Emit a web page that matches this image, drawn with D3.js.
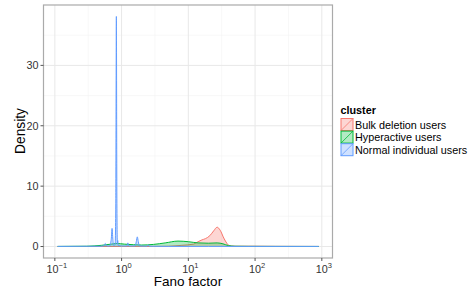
<!DOCTYPE html>
<html><head><meta charset="utf-8">
<script src="https://cdn.jsdelivr.net/npm/d3@7"></script>
<style>body{margin:0;background:#fff}svg{display:block}text{font-family:"Liberation Sans",Arial,sans-serif}</style>
</head><body><svg id="c" width="473" height="290"></svg>
<script>
// Data
const clusters = ["Bulk deletion users", "Hyperactive users", "Normal individual users"];
const colors = ["#F8766D", "#00BA38", "#619CFF"];
const bulkFano =    [0.11, 1, 3, 5, 8, 12, 14, 16, 18, 21, 24, 27, 30, 34, 38, 42, 50, 100, 200, 900];
const bulkDensity = [0.005, 0.005, 0.01, 0.05, 0.2, 0.4, 0.8, 1.1, 1.3, 1.8, 2.6, 3.2, 2.7, 1.4, 0.5, 0.1, 0.05, 0.05, 0.03, 0.01];
const hyperFano =    [0.11, 0.3, 0.5, 0.7, 0.85, 1.1, 1.5, 2, 3, 4.5, 7, 10, 14, 20, 27, 33, 40, 50, 80, 200, 900];
const hyperDensity = [0.02, 0.05, 0.2, 0.4, 0.5, 0.4, 0.3, 0.25, 0.35, 0.6, 0.9, 0.8, 0.6, 0.55, 0.6, 0.45, 0.15, 0.05, 0.03, 0.02, 0.01];
const normalFano =    [0.11, 0.5, 0.54, 0.57, 0.6, 0.66, 0.7, 0.72, 0.74, 0.76, 0.8, 0.82, 0.835, 0.85, 0.865, 0.875, 0.89, 1.0, 1.2, 1.24, 1.28, 1.6, 1.66, 1.72, 1.78, 1.85, 2.4, 2.5, 2.6, 5, 20, 100, 900];
const normalDensity = [0.02, 0.05, 0.1, 0.5, 0.1, 0.1, 1.2, 3.0, 1.2, 0.2, 0.3, 8, 38.1, 8, 0.5, 1.0, 0.2, 0.1, 0.1, 0.6, 0.1, 0.1, 0.8, 1.6, 0.8, 0.1, 0.05, 0.3, 0.05, 0.02, 0.02, 0.02, 0.02];
const xTickExps = [-1, 0, 1, 2, 3];
const yTicks = [0, 10, 20, 30];

const series = [
  {name: clusters[0], color: colors[0], x: bulkFano, y: bulkDensity},
  {name: clusters[1], color: colors[1], x: hyperFano, y: hyperDensity},
  {name: clusters[2], color: colors[2], x: normalFano, y: normalDensity}
];

const svg = d3.select("#c");
const L = 43.5, R = 332.5, T = 5, B = 258;
const x = d3.scaleLog().domain([Math.pow(10, -1.17), Math.pow(10, 3.16)]).range([L, R]);
const y = d3.scaleLinear().domain([-1.9, 40]).range([B, T]);

// grid
const g = svg.append("g");
const minorX = [-0.5, 0.5, 1.5, 2.5].map(e => Math.pow(10, e));
g.selectAll(".mx").data(minorX).enter().append("line")
  .attr("x1", d => x(d)).attr("x2", d => x(d)).attr("y1", T).attr("y2", B)
  .attr("stroke", "#f3f3f3").attr("stroke-width", 0.6);
g.selectAll(".my").data([5, 15, 25, 35]).enter().append("line")
  .attr("x1", L).attr("x2", R).attr("y1", d => y(d)).attr("y2", d => y(d))
  .attr("stroke", "#f3f3f3").attr("stroke-width", 0.6);
g.selectAll(".gx").data(xTickExps).enter().append("line")
  .attr("x1", d => x(Math.pow(10, d))).attr("x2", d => x(Math.pow(10, d))).attr("y1", T).attr("y2", B)
  .attr("stroke", "#e8e8e8").attr("stroke-width", 1);
g.selectAll(".gy").data(yTicks).enter().append("line")
  .attr("x1", L).attr("x2", R).attr("y1", d => y(d)).attr("y2", d => y(d))
  .attr("stroke", "#e8e8e8").attr("stroke-width", 1);

// densities
series.forEach(s => {
  const pts = s.x.map((v, i) => [v, s.y[i]]);
  const area = d3.area().x(d => x(d[0])).y0(y(0)).y1(d => y(d[1])).curve(d3.curveMonotoneX);
  const line = d3.line().x(d => x(d[0])).y(d => y(d[1])).curve(d3.curveMonotoneX);
  svg.append("path").datum(pts).attr("d", area).attr("fill", s.color).attr("fill-opacity", 0.3);
  svg.append("path").datum(pts).attr("d", line).attr("fill", "none").attr("stroke", s.color).attr("stroke-width", 1);
});

// border
svg.append("rect").attr("x", L).attr("y", T).attr("width", R - L).attr("height", B - T)
  .attr("fill", "none").attr("stroke", "#aaaaaa").attr("stroke-width", 1.2);

// y axis
yTicks.forEach(v => {
  svg.append("line").attr("x1", L - 3).attr("x2", L).attr("y1", y(v)).attr("y2", y(v)).attr("stroke", "#555");
  svg.append("text").attr("x", L - 5).attr("y", y(v)).attr("dy", "0.35em").attr("text-anchor", "end")
    .attr("font-size", 10.8).attr("fill", "#333").text(v);
});
// x axis
xTickExps.forEach(e => {
  const px = x(Math.pow(10, e));
  svg.append("line").attr("x1", px).attr("x2", px).attr("y1", B).attr("y2", B + 3).attr("stroke", "#555");
  const t = svg.append("text").attr("x", px + 2).attr("y", 273).attr("text-anchor", "middle")
    .attr("font-size", 10.8).attr("fill", "#333");
  t.append("tspan").text("10");
  t.append("tspan").attr("dy", -5).attr("font-size", 7.5).text(e < 0 ? "\u2212" + (-e) : e);
});

svg.append("text").attr("x", 188).attr("y", 286).attr("text-anchor", "middle").attr("font-size", 13.5).attr("fill", "#000").text("Fano factor");
svg.append("text").attr("transform", "translate(25,131) rotate(-90)").attr("text-anchor", "middle").attr("font-size", 13.8).attr("fill", "#000").text("Density");

// legend
const lg = svg.append("g");
lg.append("text").attr("x", 340.5).attr("y", 114.3).attr("font-size", 10.8).attr("font-weight", "bold").text("cluster");
series.forEach((s, i) => {
  const ky = 118.5 + i * 12.6;
  lg.append("rect").attr("x", 341).attr("y", ky).attr("width", 12).attr("height", 12)
    .attr("fill", s.color).attr("fill-opacity", 0.3).attr("stroke", s.color).attr("stroke-width", 1);
  lg.append("line").attr("x1", 341).attr("y1", ky + 12).attr("x2", 353).attr("y2", ky)
    .attr("stroke", s.color).attr("stroke-width", 0.8);
  lg.append("text").attr("x", 355).attr("y", ky + 10.3).attr("font-size", 10.8).attr("fill", "#000").text(s.name);
});
</script></body></html>
